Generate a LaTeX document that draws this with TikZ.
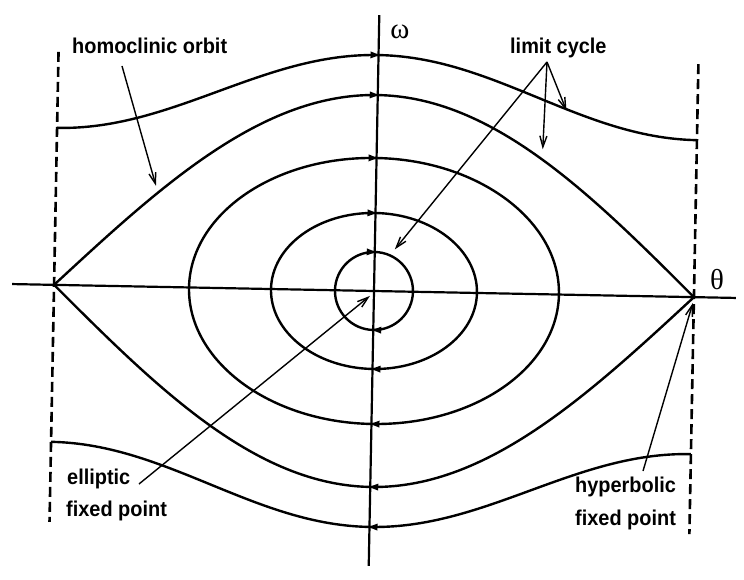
\documentclass[tikz,border=0pt]{standalone}
\usepackage{fontspec}
\setmainfont{Liberation Sans}
\newfontfamily\labfont[FakeStretch=0.93]{Liberation Sans}
\newfontfamily\grkfont{Liberation Serif}
\usetikzlibrary{arrows.meta}
\begin{document}
\begin{tikzpicture}[x=1bp,y=-1bp,
  curve/.style={line width=2.4bp},
  axisline/.style={line width=2.2bp},
  sepline/.style={line width=2.6bp, dash pattern=on 10bp off 5bp},
  ptr/.style={line width=1.4bp, -{Straight Barb[length=11bp,width=7bp]}},
  lbl/.style={font=\labfont\bfseries\fontsize{21.5}{24}\selectfont, inner sep=0pt, anchor=west},
  sym/.style={font=\grkfont\fontsize{29}{30}\selectfont, inner sep=0pt}]
\useasboundingbox (0,0) rectangle (744,580);
\begin{scope}[rotate around={-1.1:(374,291)}]
  % axes
  \draw[axisline] (12,291) -- (736,291);
  \draw[axisline] (374,15) -- (374,566);
  % dashed boundaries
  \draw[sepline] (54,58) -- (54,528);
  \draw[sepline] (694,58) -- (694,528);
  % key points
  \coordinate (HL) at (54,291);
  \coordinate (HR) at (694,291);
  \coordinate (E) at (374,291);
  % rotating orbits
  \draw[curve] plot[domain=-180:180,samples=120] ({374+1.77778*\x},{291-(196.5+39.5*cos(\x))});
  \draw[curve] plot[domain=-180:180,samples=120] ({374+1.77778*\x},{291+(196.5+39.5*cos(\x))});
  % separatrices
  \draw[curve] plot[domain=-180:180,samples=120] ({374+1.77778*\x},{291-196*cos(\x/2)});
  \draw[curve] plot[domain=-180:180,samples=120] ({374+1.77778*\x},{291+196*cos(\x/2)});
  % closed orbits
  \draw[curve] (E) ellipse [x radius=185, y radius=133];
  \draw[curve] (E) ellipse [x radius=103, y radius=78];
  \draw[curve] (E) circle [radius=39];
  % flow markers
  \foreach \yy in {55,95,158,213,252}
    \fill (366,\yy-3.5) -- (375,\yy) -- (366,\yy+3.5) -- cycle;
  \foreach \yy in {330,369,424,487,527}
    \fill (382,\yy-3.5) -- (373,\yy) -- (382,\yy+3.5) -- cycle;
  % pointer targets
  \coordinate (tHom) at (154,190);
  \coordinate (tLc1) at (540,146);
  \coordinate (tLc2) at (563,107);
  \coordinate (tLc3) at (394,249);
  \coordinate (tEl) at (370,296);
  \coordinate (tHy) at (693,297);
\end{scope}
% labels
\node[sym] (om) at (400,32) {ω};
\node[sym] (th) at (717,280) {θ};
\node[lbl] (hom) at (72,46) {homoclinic orbit};
\node[lbl] (lc) at (510,48) {limit cycle};
\node[lbl] (el1) at (67,479) {elliptic};
\node[lbl] (el2) at (66,511) {fixed point};
\node[lbl] (hy1) at (575,487) {hyperbolic};
\node[lbl] (hy2) at (575,520) {fixed point};
% pointers
\coordinate (sHom) at (122,66);
\coordinate (sLc) at (547,62);
\coordinate (sEl) at (139,484);
\coordinate (sHy) at (643,471);
\draw[ptr] (sHom) -- (tHom);
\draw[ptr] (sLc) -- (tLc1);
\draw[ptr] (sLc) -- (tLc2);
\draw[ptr] (sLc) -- (tLc3);
\draw[ptr] (sEl) -- (tEl);
\draw[ptr] (sHy) -- (tHy);
\end{tikzpicture}
\end{document}
